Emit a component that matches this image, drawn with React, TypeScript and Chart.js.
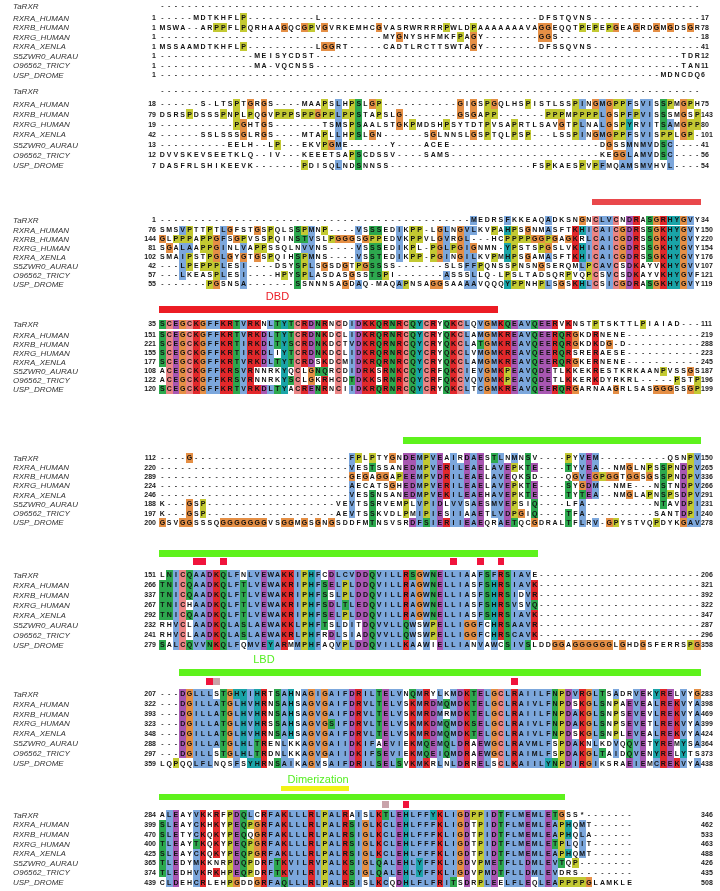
import React, { useEffect, useRef } from "react";
import { Chart, registerables } from "chart.js";

Chart.register(...registerables);

// ---------- DATA ----------
const g = (n: number) => "-".repeat(n);

const seqNames = [
  "TaRXR",
  "RXRA_HUMAN",
  "RXRB_HUMAN",
  "RXRG_HUMAN",
  "RXRA_XENLA",
  "S5ZWR0_AURAU",
  "O96562_TRICY",
  "USP_DROME",
];

const block1 = [
  g(80),
  g(5) + "MDTKHFLP" + g(10) + "L" + g(32) + "DFSTQVNS" + g(16),
  "MSWA--ARPPFLPQRHAAGQCGPVGVRKEMHCGVASRWRRRRPWLDPAAAAAAAVAGGEQQTPEPEPGEAGRDGMGDSGR",
  g(33) + "MYGNYSHFMKFPAGY" + g(8) + "GGS" + g(21),
  "MSSAAMDTKHFLP" + g(10) + "LGGRT" + g(5) + "CADTLRCTTSWTAGY" + g(8) + "DFSSQVNS" + g(16),
  g(14) + "MEISYCDST" + g(54) + "TDR",
  g(14) + "MA-VQCNSS" + g(54) + "TAN",
  g(74) + "MDNCDQ",
];

const block2 = [
  g(80),
  g(6) + "S-LTSPTGRGS" + g(4) + "MAAPSLHPSLGP" + g(11) + "GIGSPGQLHSPISTLSSPINGMGPPFSVISSPMGPH",
  "DSRSPDSSSPNPLPQGVPPPSPPGPPLPPSTAPSLG" + g(8) + "GSGAPP" + g(7) + "PPPMPPPPLGSPFPVISSSMGSP",
  g(11) + "PGHTGS" + g(7) + "TSMSPSAALSTGKPMDSHPSYTDTPVSAPRTLSAVGTPLNALGSPYRVITSAMGPP",
  g(6) + "SSLSSSGLRGS" + g(4) + "MTAPLLHPSLGN" + g(6) + "SGLNNSLGSPTQLPSP" + g(3) + "LSSPINGMGPPFSVISPPLGP" + g(1),
  g(10) + "EELH" + g(2) + "LP" + g(3) + "EKVPGME" + g(6) + "Y" + g(4) + "ACEE" + g(22) + "DGSSMNMVDSC" + g(4),
  "DVVSKEVSEETKLQ" + g(2) + "IV" + g(3) + "KEEETSAPSCDSSV" + g(4) + "SAMS" + g(22) + "KEGGLAMVDSC" + g(4),
  "DASFRLSHIKEEVK" + g(7) + "PDISQLNDSNNSS" + g(21) + "FSPKAESPVPFMQAMSMVHVL" + g(4),
];

const block3 = [
  g(46) + "MEDRSFKKEAQADKSNGNCLVCNDRASGRHYGVY",
  "SMSVPTTPTLGFSTGSPQLSSPMNP" + g(4) + "VSSSEDIKPP" + g(1) + "LGLNGVLKVPAHPSGNMASFTKHICAICGDRSSGKHYGVY",
  "GLPPPAPPGFSGPVSSPQINSTVSLPGGGSGPPEDVKPPVLGVRGL" + g(3) + "HCPPPPGGPGAGKRLCAICGDRSSGKHYGVY",
  "SGALAAPPGINLVAPPSSQLNVVNS" + g(4) + "VSSSEDIKPL" + g(1) + "PGLPGIGNMN" + g(1) + "YPSTSPGSLVKHICAICGDRSSGKHYGVY",
  "SMAIPSTPGLGYGTGSPQIHSPMNS" + g(4) + "VSSTEDIKPP" + g(1) + "PGINGILKVPMHPSGAMASFTKHICAICGDRSSGKHYGVY",
  g(3) + "LPEPPPLESI" + g(4) + "DSYSPLSGSDGTPGSSSS" + g(7) + "SLSFFPQNSSPNSNGSERQMLPCAVCSDKAYVKHYGVV",
  g(3) + "LKEASPLESI" + g(4) + "HPYSPLASDASGSSTSPI" + g(7) + "ASSSLLQ" + g(1) + "LPSLTADSQRPVQPCSVCSDKAYVKHYGVF",
  g(7) + "PGSNSA" + g(7) + "SSNNNSAGDAQ" + g(1) + "MAQAPNSAGGSAAAAVQQQYPPNHPLSGSKHLCSICGDRASGKHYGVY",
];

const block4 = [
  "SCEGCKGFFKRTVRKNLTYTCRDNRNCDIDKKQRNRCQYCRYQKCLQVGMKQEAVQEERVKNSTPTSKTTLPIAIAD" + g(3),
  "SCEGCKGFFKRTVRKDLTYTCRDNKDCLIDKRQRNRCQYCRYQKCLAMGMKREAVQEERQRGKDRNENE" + g(11),
  "SCEGCKGFFKRTIRKDLTYSCRDNKDCTVDKRQRNRCQYCRYQKCLATGMKREAVQEERQRGKDKDG-D" + g(11),
  "SCEGCKGFFKRTIRKDLIYTCRDNKDCLIDKRQRNRCQYCRYQKCLVMGMKREAVQEERQRSRERAESE" + g(11),
  "SCEGCKGFFKRTVRKDLTYTCRDSKDCMIDKRQRNRCQYCRYQKCLAMGMKREAVQEERQRGKERNENE" + g(11),
  "ACEGCKGFFKRSVRNNRKYQCLGNQRCDIDRKSRNKCQYCRFQKCIEVGMKPEAVQDETLKKEKRESTKRKAANPVSSGS",
  "ACEGCKGFFKRSVRNNRKYSCLGKRHCDTDKKSRNRCQYCRFQKCVQVGMKPEAVQDETLKKERKDYRKRL" + g(5) + "PSTP",
  "SCEGCKGFFKRTVRKDLTYACRENRNCIIDKRQRNRCQYCRYQKCLTCGMKREAVQEERQRGARNAAGRLSASGGGSSGP",
];

const block5 = [
  g(4) + "G" + g(23) + "FPLPTYGNDEMPVEAIRDAESTLNMNSV" + g(4) + "PYVEM" + g(10) + "QSNPV",
  g(28) + "VESTSSANEDMPVERILEAELAVEPKTE" + g(4) + "TYVEA" + g(2) + "NMGLNPSSPNDPV",
  g(28) + "GEGAGGAPEEMPVDRILEAELAVEQKSD" + g(4) + "QGVEGPGGTGGSGSSPNDPV",
  g(28) + "AECATSGHEDMPVERILEAELAVEPKTE" + g(4) + "SYGDM" + g(2) + "NME" + g(3) + "NSTNDPV",
  g(28) + "VESSNSANEDMPVEKILEAEHAVEPKTE" + g(4) + "TYTEA" + g(2) + "NMGLAPNSPSDPV",
  "K" + g(3) + "GSP" + g(19) + "VEVTSSRVEMPLVPIDLVVSAESMVEPSIQ" + g(4) + "LFA" + g(10) + "NTAVDPI",
  "K" + g(3) + "GSP" + g(19) + "AEVTSSKVDLPMIPIESIIAAETLVDPGIQ" + g(4) + "TFA" + g(10) + "SANTDPI",
  "GSVGGSSSQGGGGGGGVSGGMGSGNGSDDFMTNSVSRDFSIERIIEAEQRAETQCGDRALTFLRV" + g(1) + "GPYSTVQPDYKGAV",
];

const block6 = [
  "LNICQAADKQLFNLVEWAKKIPHFCDLCVDDQVILLRSGWNELLIAAFSFRSIAVE" + g(24),
  "TNICQAADKQLFTLVEWAKRIPHFSELPLDDQVILLRAGWNELLIASFSHRSIAVK" + g(24),
  "TNICQAADKQLFTLVEWAKRIPHFSSLPLDDQVILLRAGWNELLIASFSHRSIDVR" + g(24),
  "TNICHAADKQLFTLVEWAKRIPHFSDLTLEDQVILLRAGWNELLIASFSHRSVSVQ" + g(24),
  "TNICQAADKQLFTLVEWAKRIPHFSELPLDDQVILLRAGWNELLIASFSHRSIAVK" + g(24),
  "RHVCLAADKQLASLAEWAKKLPHFTSLDITDQVVLLQWSWPELLIGGFCHRSAAVR" + g(24),
  "RHVCLAADKQLASLAEWAKRLPHFRDLSIADQVVLLQWSWPELLIGGFCHRSCAVK" + g(24),
  "SALCQVVNKQLFQMVEYARMMPHFAQVPLDDQVILLKAAWIELLIANVAWCSIVSLDDGGAGGGGGGLGHDGSFERRSPG",
];

const block7 = [
  g(3) + "DGLLLSTGHYIHRTSAHNAGIGAIFDRILTELVNQMRYLKMDKTELGCLRAIILFNPDVRGLTSADRVEKYRELVYG",
  g(3) + "DGILLATGLHVHRNSAHSAGVGAIFDRVLTELVSKMRDMQMDKTELGCLRAIVLFNPDSKGLSNPAEVEALREKVYA",
  g(3) + "DGILLATGLHVHRNSAHSAGVGAIFDRVLTELVSKMRDMRMDKTELGCLRAIILFNPDAKGLSNPSEVEVLREKVYA",
  g(3) + "DGILLATGLHVHRSSAHSAGVGSIFDRVLTELVSKMKDMQMDKSELGCLRAIVLFNPDAKGLSNPSEVETLREKVYA",
  g(3) + "DGILLATGLHVHRNSAHSAGVGAIFDRVLTELVSKMRDMQMDKTELGCLRAIVLFNPDSKGLSNPLEVEALREKVYA",
  g(3) + "DGILLATGLHLTRENLKKAGVGAIIDKIFAEVIEKMQEMQLDRAEWGCLRAVMLFSPDAKNLKDVQQVETYREMYSA",
  g(3) + "DGILLSTGLHLTRDNLKKAGVGAIIDKIFSEVIEKMQEIQMDRAEWGCLRAIMLFSPDAKGLTAIDQVENYRELYTS",
  "LQPQQLFLNQSFSYHRNSAIKAGVSAIFDRILSELSVKMKRLNLDRRELSCLKAIILYNPDIRGIKSRAEIEMCREKVYA",
];

const block8 = [
  "ALEAYVKKRFPDQLCRFAKLLLRLPALRAISLKTLEHLFFYKLIGDPPIDTFLMEMLETGSS*" + g(7),
  "SLEAYCKHKYPEQPGRFAKLLLRLPALRSIGLKCLEHLFFFKLIGDTPIDTFLMEMLEAPHQMT" + g(6),
  "SLETYCKQKYPEQQGRFAKLLLRLPALRSIGLKCLEHLFFFKLIGDTPIDTFLMEMLEAPHQLA" + g(6),
  "TLEAYTKQKYPEQPGRFAKLLLRLPALRSIGLKCLEHLFFFKLIGDTPIDTFLMEMLETPLQIT" + g(6),
  "SLEAYCKQKYPEQPGRFAKLLLRLPALRSIGLKCLEHLFFFKLIGDTPIDTFLMEMLEAPHQMT" + g(6),
  "TLEDYMKKNRPDQPDRFTKVILRVPALKSIGLQALEHLYFFKLIGDVPMETFLLDMLEVTQP" + g(8),
  "TLEDHVKRKHPEQPDRFTKVILRIPALKSIGLQALEHLYFFKLIGDVPMDTFLLDMLEVDRS" + g(8),
  "CLDEHCRLEHPGDDGRFAQLLLRLPALRSISLKCQDHLFLFRITSDRPLEELFLEQLEAPPPPGLAMKLE",
];

const blocks = [block1, block2, block3, block4, block5, block6, block7, block8];

const startNums = [
  ["", "1", "1", "1", "1", "1", "1", "1"],
  ["", "18", "79", "19", "42", "13", "12", "7"],
  ["1", "76", "144", "81", "102", "42", "57", "55"],
  ["35", "151", "221", "155", "177", "108", "122", "120"],
  ["112", "220", "289", "224", "246", "188", "197", "200"],
  ["151", "266", "337", "267", "292", "232", "241", "279"],
  ["207", "322", "393", "323", "348", "288", "297", "359"],
  ["284", "399", "470", "400", "425", "365", "374", "439"],
];

const endNums = [
  ["", "17", "78", "18", "41", "12", "11", "6"],
  ["", "75", "143", "80", "101", "41", "56", "54"],
  ["34", "150", "220", "154", "176", "107", "121", "119"],
  ["111", "219", "288", "223", "245", "187", "196", "199"],
  ["150", "265", "336", "266", "291", "231", "240", "278"],
  ["206", "321", "392", "322", "347", "287", "296", "358"],
  ["283", "398", "469", "399", "424", "364", "373", "438"],
  ["346", "462", "533", "463", "488", "426", "435", "508"],
];

// feature annotations: block index (0-based), first column, last column (1-based)
const featureBars = [
  { block: 2, from: 65, to: 80, kind: "dbdTop" },
  { block: 3, from: 1, to: 50, kind: "dbd" },
  { block: 4, from: 37, to: 80, kind: "lbd" },
  { block: 5, from: 1, to: 56, kind: "lbd" },
  { block: 6, from: 4, to: 80, kind: "lbd" },
  { block: 7, from: 19, to: 28, kind: "dimer" },
  { block: 7, from: 1, to: 60, kind: "lbd" },
];
const siteMarks = [
  { block: 5, col: 6, kind: "key" },
  { block: 5, col: 7, kind: "key" },
  { block: 5, col: 10, kind: "key" },
  { block: 5, col: 44, kind: "key" },
  { block: 5, col: 48, kind: "key" },
  { block: 5, col: 51, kind: "key" },
  { block: 6, col: 8, kind: "key" },
  { block: 6, col: 9, kind: "minor" },
  { block: 6, col: 53, kind: "key" },
  { block: 7, col: 34, kind: "minor" },
  { block: 7, col: 37, kind: "key" },
];
const domainLabels = [
  { block: 3, col: 18, text: "DBD", kind: "dbd" },
  { block: 6, col: 16, text: "LBD", kind: "lbd" },
  { block: 7, col: 24, text: "Dimerization", kind: "lbd" },
];

// ---------- LAYOUT / STYLE ----------
const W = 720;
const H = 891;
const X0 = 159;
const CW = 6.77;
const NAME_X = 13;
const NUM_RIGHT = 156;
// y of the TaRXR row, y of the second row, and row pitch, per block
const rowYTop = [6, 91, 220, 324, 458, 575, 694, 815];
const rowYSecond = [18, 104, 230, 335, 467.2, 585, 703.9, 824.6];
const rowStep = [9.5, 10.2, 9.0, 9.0, 9.2, 10.0, 9.9, 9.6];
const barLayout = [
  [199, 6],
  [306, 7],
  [437, 7],
  [550, 7],
  [669, 7],
  [786, 5],
  [794, 6],
];
const markLayout = [558, 558, 558, 558, 558, 558, 678, 678, 678, 801, 801];
const labelLayout = [297, 660, 780];

const barColors: Record<string, string> = {
  dbdTop: "#E9484B",
  dbd: "#EC1C24",
  lbd: "#5EF21C",
  dimer: "#F2F215",
};
const markColors: Record<string, string> = { key: "#F0143C", minor: "#C9A3AA" };
const labelColors: Record<string, string> = { dbd: "#EC1C24", lbd: "#55EE22" };

const BLUE = "#7CA7DC";
const RED = "#E2282B";
const GREEN = "#2DA84E";
const MAGENTA = "#A857B2";
const PINK = "#EB8585";
const ORANGE = "#E58F45";
const YELLOW = "#C3C932";
const CYAN = "#1AA4A8";

const HYD = "WLVIMAFCHP";

function clustalColour(res: string, column: string[]): string | null {
  const n = column.length;
  const pct = (set: string) => (column.filter((c) => set.includes(c)).length * 100) / n;
  const over = (set: string, t: number) => pct(set) > t;
  const any85 = (set: string) => set.split("").some((c) => over(c, 85));
  switch (res) {
    case "G":
      return ORANGE;
    case "P":
      return YELLOW;
    case "C":
      if (over("C", 85)) return PINK;
      if (over(HYD, 60)) return BLUE;
      return null;
    case "A":
    case "I":
    case "L":
    case "M":
    case "F":
    case "W":
    case "V":
      if (over(HYD, 60) || any85("ACFHILMVWYP")) return BLUE;
      return null;
    case "K":
    case "R":
      if (over("KR", 60) || any85("KRQ")) return RED;
      return null;
    case "E":
      if (over("ED", 50) || over("QE", 50) || any85("DEQ")) return MAGENTA;
      return null;
    case "D":
      if (over("ED", 50) || over("N", 50) || any85("DEN")) return MAGENTA;
      return null;
    case "N":
      if (over("N", 50) || any85("ND")) return GREEN;
      return null;
    case "Q":
      if (over("QE", 50) || over("KR", 60) || any85("QEKR")) return GREEN;
      return null;
    case "S":
      if (over("TS", 50) || any85("ST") || over(HYD, 80)) return GREEN;
      return null;
    case "T":
      if (over("TS", 50) || any85("ST") || over(HYD, 60)) return GREEN;
      return null;
    case "H":
    case "Y":
      if (over(HYD, 60) || any85("WYACPQFHILMV")) return CYAN;
      return null;
    default:
      return null;
  }
}

const rowY = (b: number, ri: number) =>
  ri === 0 ? rowYTop[b] : rowYSecond[b] + (ri - 1) * rowStep[b];

const alignmentPlugin = {
  id: "alignmentPainter",
  afterDraw(chart: any) {
    const ctx: CanvasRenderingContext2D = chart.ctx;
    const xs = chart.scales.x;
    const ys = chart.scales.y;
    const px = (v: number) => xs.getPixelForValue(v);
    const py = (v: number) => ys.getPixelForValue(v);
    const colLeft = (c: number) => X0 + (c - 1) * CW; // 1-based column

    ctx.save();
    ctx.fillStyle = "#ffffff";
    ctx.fillRect(0, 0, chart.width, chart.height);

    blocks.forEach((rows, b) => {
      const ncol = rows[0].length;
      const step = rowStep[b];
      for (let c = 0; c < ncol; c++) {
        const column = rows.map((r) => r[c] || "-");
        rows.forEach((r, ri) => {
          const ch = r[c];
          if (!ch || ch === "-" || ch === "*") return;
          const col = clustalColour(ch, column);
          if (!col) return;
          const yc = rowY(b, ri);
          const x1 = Math.round(px(colLeft(c + 1)));
          const x2 = Math.round(px(colLeft(c + 2)));
          const y1 = Math.round(py(yc - step / 2));
          const y2 = Math.round(py(yc + step / 2));
          ctx.fillStyle = col;
          ctx.fillRect(x1, y1, x2 - x1, y2 - y1);
        });
      }
      rows.forEach((r, ri) => {
        const yc = py(rowY(b, ri)) + 0.5;
        ctx.textBaseline = "middle";
        ctx.fillStyle = "#333";
        ctx.font = "italic 8px 'Liberation Sans', Arial, sans-serif";
        ctx.textAlign = "left";
        ctx.fillText(seqNames[ri], px(NAME_X), yc);
        ctx.font = "bold 7px 'Liberation Sans', Arial, sans-serif";
        ctx.fillStyle = "#1a1a1a";
        ctx.textAlign = "right";
        ctx.fillText(startNums[b][ri], px(NUM_RIGHT), yc);
        ctx.textAlign = "left";
        ctx.fillText(endNums[b][ri], px(colLeft(81)) + 0.5, yc);
        ctx.textAlign = "center";
        for (let c = 0; c < r.length; c++) {
          const ch = r[c];
          ctx.fillStyle = ch === "-" ? "#444" : "#111";
          ctx.fillText(ch, px(colLeft(c + 1) + CW / 2), yc);
        }
      });
    });

    featureBars.forEach((f, i) => {
      const [y, h] = barLayout[i];
      ctx.fillStyle = barColors[f.kind];
      const x1 = Math.round(px(colLeft(f.from)));
      const x2 = Math.round(px(colLeft(f.to + 1)));
      ctx.fillRect(x1, Math.round(py(y)), x2 - x1, Math.round(py(y + h) - py(y)));
    });

    siteMarks.forEach((m, i) => {
      const y = markLayout[i];
      ctx.fillStyle = markColors[m.kind];
      const x1 = Math.round(px(colLeft(m.col)));
      const x2 = Math.round(px(colLeft(m.col + 1)));
      ctx.fillRect(x1, Math.round(py(y)), x2 - x1, Math.round(py(y + 7) - py(y)));
    });

    domainLabels.forEach((l, i) => {
      ctx.fillStyle = labelColors[l.kind];
      ctx.font = "11px 'Liberation Sans', Arial, sans-serif";
      ctx.textAlign = "center";
      ctx.textBaseline = "middle";
      ctx.fillText(l.text, px(colLeft(l.col) + CW / 2), py(labelLayout[i]));
    });

    ctx.restore();
  },
};

export default function App() {
  const ref = useRef<HTMLCanvasElement | null>(null);
  useEffect(() => {
    if (!ref.current) return;
    const chart = new Chart(ref.current, {
      type: "scatter",
      data: { datasets: [{ data: [], pointRadius: 0 }] },
      options: {
        animation: false,
        responsive: false,
        devicePixelRatio: 1,
        layout: { padding: 0 },
        plugins: { legend: { display: false }, tooltip: { enabled: false } },
        scales: {
          x: { type: "linear", min: 0, max: W, display: false },
          y: { type: "linear", min: 0, max: H, reverse: true, display: false },
        },
      },
      plugins: [alignmentPlugin],
    } as any);
    return () => chart.destroy();
  }, []);
  return (
    <div style={{ position: "absolute", left: 0, top: 0, width: W, height: H, background: "#fff" }}>
      <canvas ref={ref} width={W} height={H} style={{ width: W, height: H, display: "block" }} />
    </div>
  );
}
